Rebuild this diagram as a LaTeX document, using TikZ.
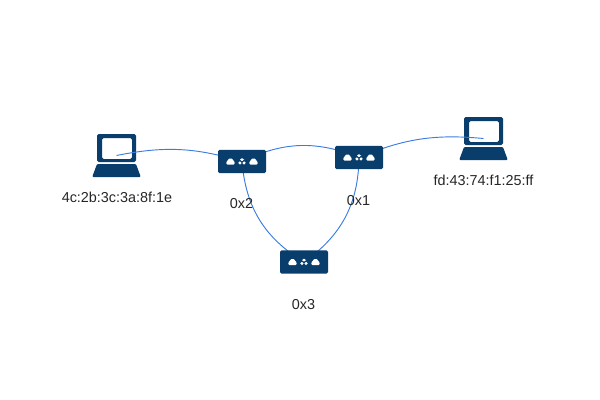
\documentclass[tikz,border=0pt]{standalone}
\usepackage{fontspec}
\setmainfont{Liberation Sans}
\usetikzlibrary{positioning}
\definecolor{netnavy}{RGB}{9,61,107}
\definecolor{linkblue}{RGB}{58,124,224}
\pgfdeclarelayer{boxes}
\pgfsetlayers{main,boxes}

\newcommand{\laptopicon}{%
  \fill[netnavy,even odd rule,rounded corners=1.2] (-19.5,-21.5) rectangle (19.5,6.5)
    (-14.5,-17.5) rectangle (15.5,3.5);
  \fill[netnavy,rounded corners=0.8] (-19.5,8.5) -- (19.5,8.5) -- (24.3,21.5) -- (-24.3,21.5) -- cycle;
}
\newcommand{\switchicon}{%
  \foreach \x in {-11.5,11.5} {
    \fill[white,rounded corners=0.8] (\x-4.2,3) -- (\x-4.2,0) -- (\x-2.6,-0.6) -- (\x-2,-3)
      -- (\x+2,-3) -- (\x+2.6,-0.6) -- (\x+4.2,0) -- (\x+4.2,3) -- cycle;
  }
  \fill[white] (-2,-3.2) rectangle (2,-0.6);
  \fill[white] (-3.8,-0.1) rectangle (-0.4,3);
  \fill[white] (0.4,-0.1) rectangle (3.8,3);
}
\tikzset{
  laptopnode/.style={minimum width=49bp*0.75,minimum height=44bp*0.75,inner sep=0pt,
    path picture={\begin{scope}[shift={(path picture bounding box.center)}]\laptopicon\end{scope}}},
  switchnode/.style={fill=netnavy,rounded corners=1.2pt,minimum width=36bp,minimum height=17.6bp,inner sep=0pt,
    path picture={\begin{scope}[shift={(path picture bounding box.center)}]\switchicon\end{scope}}},
  linkline/.style={linkblue,line width=0.7pt},
  addrlabel/.style={font=\fontsize{10.8bp}{12bp}\selectfont,text=black!85}
}

\begin{document}
\begin{tikzpicture}[x=0.75bp,y=-0.75bp]
\useasboundingbox (0,0) rectangle (600,400);

% Switches
\begin{pgfonlayer}{boxes}
\node[switchnode] (sw2) at (242,161.5) {};
\node[switchnode] (sw1) at (359,157.5) {};
\node[switchnode] (sw3) at (304,262) {};
\end{pgfonlayer}

% Hosts
\node[laptopnode] (hostl) at (116.5,155.5) {};
\node[laptopnode] (hostr) at (483.5,138.5) {};

% Links
\draw[linkline] (hostl.center) to[bend left=14] (sw2.center);
\draw[linkline] (sw2.center) to[bend left=24] (sw1.center);
\draw[linkline] (sw1.center) to[bend left=14] (hostr.center);
\draw[linkline] (sw2.center) to[bend right=27] (sw3.center);
\draw[linkline] (sw1.center) to[bend left=27] (sw3.center);

% Labels
\node[addrlabel] (lblhostl) at (117,197) {4c:2b:3c:3a:8f:1e};
\node[addrlabel] (lblhostr) at (483.5,180) {fd:43:74:f1:25:ff};
\node[addrlabel] (lblsw2) at (241.5,203.5) {0x2};
\node[addrlabel] (lblsw1) at (358.5,200.5) {0x1};
\node[addrlabel] (lblsw3) at (303.5,304.5) {0x3};
\end{tikzpicture}
\end{document}
